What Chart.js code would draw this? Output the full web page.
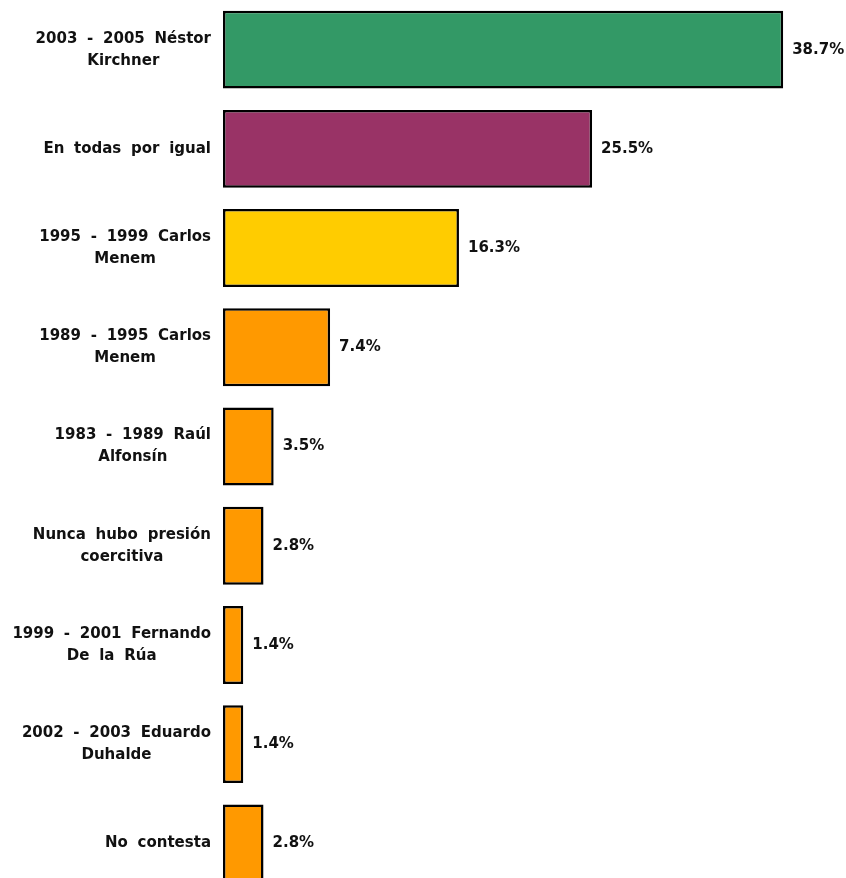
<!DOCTYPE html>
<html>
<head>
<meta charset="utf-8">
<style>
html,body{margin:0;padding:0;overflow:hidden;background:#ffffff}
#wrap{width:846px;height:893px}
</style>
<script src="https://cdn.jsdelivr.net/npm/chart.js@4"></script>
</head>
<body>
<div id="wrap"><canvas id="c" width="846" height="893"></canvas></div>
<script>
const categories = [
  ["2003 - 2005 Néstor", "Kirchner"],
  ["En todas por igual"],
  ["1995 - 1999 Carlos", "Menem"],
  ["1989 - 1995 Carlos", "Menem"],
  ["1983 - 1989 Raúl", "Alfonsín"],
  ["Nunca hubo presión", "coercitiva"],
  ["1999 - 2001 Fernando", "De la Rúa"],
  ["2002 - 2003 Eduardo", "Duhalde"],
  ["No contesta"]
];
const values = [38.7, 25.5, 16.3, 7.4, 3.5, 2.8, 1.4, 1.4, 2.8];
const barColors = ['#339966', '#993366', '#FFCC00', '#FF9900', '#FF9900', '#FF9900', '#FF9900', '#FF9900', '#FF9900'];

const FONT = 'bold 15px "DejaVu Sans", Verdana, sans-serif';

const textPlugin = {
  id: 'txt',
  afterDatasetsDraw(chart) {
    const ctx = chart.ctx;
    const yScale = chart.scales.y;
    const meta = chart.getDatasetMeta(0);
    ctx.save();
    ctx.font = FONT;
    try { ctx.letterSpacing = '0px'; ctx.wordSpacing = '4.5px'; } catch (e) {}
    ctx.fillStyle = '#111111';
    ctx.textBaseline = 'middle';
    categories.forEach((lines, i) => {
      const cy = yScale.getPixelForValue(i);
      const w = Math.max(...lines.map(l => ctx.measureText(l).width));
      const cx = chart.chartArea.left - 12 - w / 2;
      ctx.textAlign = 'center';
      lines.forEach((l, j) => ctx.fillText(l, cx, cy + (j - (lines.length - 1) / 2) * 22));
      const bar = meta.data[i];
      ctx.textAlign = 'left';
      ctx.fillText(values[i].toFixed(1) + '%', bar.x + 9, bar.y);
    });
    ctx.restore();
  }
};

new Chart(document.getElementById('c'), {
  type: 'bar',
  data: {
    labels: categories.map(l => l.join(' ')),
    datasets: [{
      data: values,
      backgroundColor: barColors,
      borderColor: '#000000',
      borderWidth: 2.5,
      borderSkipped: false,
      categoryPercentage: 1,
      barPercentage: 0.785
    }]
  },
  options: {
    indexAxis: 'y',
    responsive: false,
    devicePixelRatio: 1,
    animation: false,
    layout: { padding: { left: 0, right: 44, top: 0, bottom: 0 } },
    plugins: { legend: { display: false }, tooltip: { enabled: false } },
    scales: {
      x: { display: false, min: 0, max: 40 },
      y: {
        offset: true,
        grid: { display: false, drawTicks: false },
        border: { display: false },
        ticks: { display: false },
        afterFit(scale) { scale.width = 223; }
      }
    }
  },
  plugins: [textPlugin]
});
</script>
</body>
</html>
